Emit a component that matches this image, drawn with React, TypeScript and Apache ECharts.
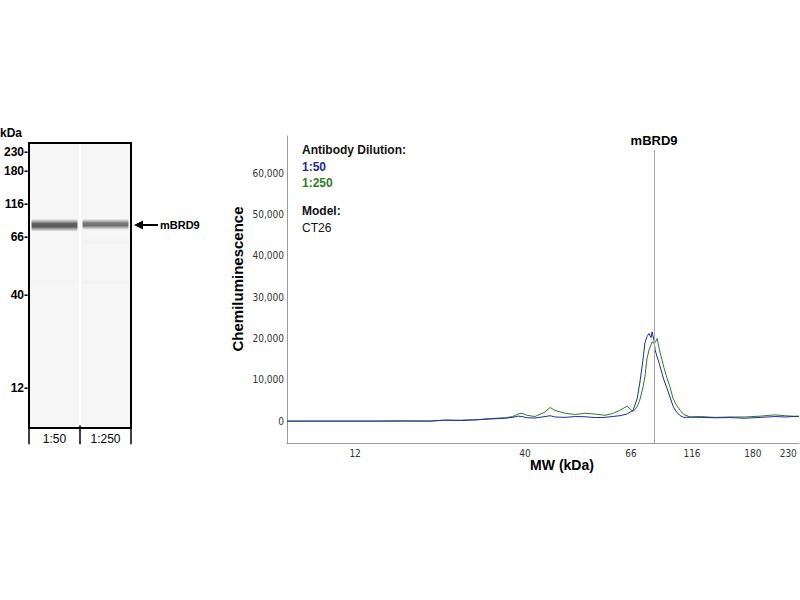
import React, { useEffect, useRef } from 'react';
import * as echarts from 'echarts';

// Capillary position (0-100) of the MW ladder standards, shared by the lane view and the electropherogram
const ladderMW = [12, 40, 66, 116, 180, 230];
const ladderPos = [13.3, 46.5, 67.2, 79.1, 91.0, 97.9];

const lanes = ['1:50', '1:250'];

// Lane view bands: lane index, position, thickness (position units), darkness
const bandLane = [0, 1, 1, 0, 1];
const bandPos = [71.6, 71.9, 65.8, 51.2, 51.2];
const bandThick = [4.6, 4.0, 2.4, 2.4, 2.4];
const bandAlpha = [0.78, 0.66, 0.02, 0.015, 0.02];

// Electropherogram samples (position along capillary)
const egPos = [
  0, 8.4, 18.2, 22.1, 27.9, 30.9, 33.8, 36.7, 39.6, 42.6, 44.1, 45.1, 45.9, 46.9, 48.4,
  50.4, 51.4, 52.3, 54.3, 56.3, 58.2, 60.2, 62.1, 63.5, 65.0, 66.4, 67.6, 68.4, 68.9,
  69.5, 69.9, 70.3, 70.7, 71.1, 71.3, 71.7, 71.9, 72.3, 72.7, 73.0, 73.6, 74.2, 74.8,
  75.4, 76.0, 76.8, 77.5, 78.7, 80.7, 83.6, 86.5, 89.5, 92.4, 95.3, 97.3, 100,
];
const dil50 = [
  0, 0, 0, 50, 0, 250, 150, 300, 500, 700, 900, 1200, 1100, 800, 750,
  1100, 1300, 1000, 900, 1100, 1050, 850, 900, 1100, 1300, 1700, 2600, 5500, 9200,
  14500, 18900, 20400, 21200, 20200, 21600, 19500, 17200, 15500, 14000, 12600, 10000, 8000, 5800,
  3600, 2300, 1300, 900, 950, 900, 800, 850, 700, 900, 1100, 1000, 1200,
];
const dil250 = [
  0, 0, 0, 0, 0, 200, 200, 300, 600, 800, 1100, 1700, 1900, 1400, 1100,
  2200, 3300, 2600, 1900, 1600, 1900, 1700, 1400, 1800, 2600, 3600, 2300, 3500, 5100,
  8000, 10700, 15000, 17200, 18500, 19200, 18800, 19000, 20000, 17500, 16000, 13000, 10500, 8300,
  5500, 4000, 2600, 1600, 1000, 1100, 900, 1000, 1000, 1200, 1500, 1300, 1100,
];

const yTicks = [0, 10000, 20000, 30000, 40000, 50000, 60000];
const targetName = 'mBRD9';
const targetPos = 71.7;

const FONT = "'Liberation Sans', Arial, sans-serif";
const NARROW = "'Liberation Sans Narrow', 'DejaVu Sans Condensed', 'Liberation Sans', sans-serif";
const BLUE = '#1f2a9f';
const GREEN = '#2e7d1f';

const mwLabel = (v: number) => {
  const i = ladderPos.findIndex(p => Math.abs(p - v) < 0.01);
  return i >= 0 ? String(ladderMW[i]) : '';
};

export default function App() {
  const ref = useRef<HTMLDivElement>(null);

  useEffect(() => {
    if (!ref.current) return;
    const chart = echarts.init(ref.current, undefined, { renderer: 'svg' });

    const option: echarts.EChartsOption = {
      animation: false,
      backgroundColor: '#ffffff',
      textStyle: { fontFamily: FONT },
      grid: [
        // lane view
        {
          left: 29, top: 143, width: 102, height: 285,
          show: true, backgroundColor: '#ffffff', borderColor: '#000', borderWidth: 2,
        },
        // electropherogram
        { left: 287, top: 136, right: 1, bottom: 157 },
      ],
      xAxis: [
        {
          gridIndex: 0,
          type: 'category',
          data: lanes,
          boundaryGap: true,
          axisLine: { show: false },
          axisTick: { show: true, length: 19, lineStyle: { color: '#000', width: 1.5 } },
          axisLabel: { color: '#000', fontSize: 12, margin: 5, fontFamily: FONT },
          splitLine: { show: false },
        },
        {
          gridIndex: 1,
          type: 'value',
          min: 0,
          max: 100,
          axisLine: { show: true, onZero: false, lineStyle: { color: '#9a9a9a', width: 1 } },
          axisTick: { show: false },
          splitLine: { show: false },
          axisLabel: {
            customValues: ladderPos,
            formatter: (v: number) => mwLabel(v),
            color: '#333',
            fontSize: 10,
            margin: 5,
            fontFamily: NARROW,
          },
        },
      ],
      yAxis: [
        {
          gridIndex: 0,
          type: 'value',
          min: -1,
          max: 101,
          axisLine: { show: false },
          axisTick: { show: false },
          splitLine: { show: false },
          axisLabel: {
            customValues: ladderPos,
            formatter: (v: number) => mwLabel(v) + '-',
            color: '#000',
            fontSize: 12,
            fontWeight: 'bold',
            margin: 1,
            fontFamily: FONT,
          },
        },
        {
          gridIndex: 1,
          type: 'value',
          min: -5300,
          max: 69000,
          axisLine: { show: true, lineStyle: { color: '#9a9a9a', width: 1 } },
          axisTick: { show: false },
          splitLine: { show: false },
          axisLabel: {
            customValues: yTicks,
            formatter: (v: number) => v.toLocaleString('en-US'),
            color: '#333',
            fontSize: 10,
            margin: 3,
            fontFamily: NARROW,
          },
        },
      ],
      series: [
        {
          type: 'custom',
          name: 'lanes',
          xAxisIndex: 0,
          yAxisIndex: 0,
          silent: true,
          data: lanes.map((_, i) => [i]),
          renderItem: (params: any, api: any) => {
            const cs = params.coordSys;
            const c = api.coord([api.value(0), 50]);
            const w = api.size([1, 0])[0] - 2;
            return {
              type: 'rect',
              shape: { x: c[0] - w / 2, y: cs.y + 1, width: w, height: cs.height - 2 },
              style: { fill: '#f6f6f6' },
            };
          },
          z: 1,
        },
        {
          type: 'custom',
          name: 'bands',
          xAxisIndex: 0,
          yAxisIndex: 0,
          silent: true,
          data: bandLane.map((l, i) => [l, bandPos[i], bandThick[i], bandAlpha[i]]),
          renderItem: (params: any, api: any) => {
            const c = api.coord([api.value(0), api.value(1)]);
            const sz = api.size([1, api.value(2)]);
            const a = api.value(3);
            const w = sz[0] * 0.9;
            const h = sz[1];
            const col = (k: number) => `rgba(45,45,45,${(a * k).toFixed(3)})`;
            return {
              type: 'rect',
              shape: { x: c[0] - w / 2, y: c[1] - h / 2, width: w, height: h, r: 2 },
              style: {
                fill: new echarts.graphic.LinearGradient(0, 0, 0, 1, [
                  { offset: 0, color: col(0) },
                  { offset: 0.18, color: col(0.4) },
                  { offset: 0.38, color: col(0.95) },
                  { offset: 0.62, color: col(1) },
                  { offset: 0.82, color: col(0.45) },
                  { offset: 1, color: col(0) },
                ]),
              },
            };
          },
          z: 2,
        },
        {
          type: 'line',
          name: '1:250',
          xAxisIndex: 1,
          yAxisIndex: 1,
          data: egPos.map((p, i) => [p, dil250[i]]),
          showSymbol: false,
          lineStyle: { color: GREEN, width: 1 },
          itemStyle: { color: GREEN },
          z: 3,
        },
        {
          type: 'line',
          name: '1:50',
          xAxisIndex: 1,
          yAxisIndex: 1,
          data: egPos.map((p, i) => [p, dil50[i]]),
          showSymbol: false,
          lineStyle: { color: BLUE, width: 1 },
          itemStyle: { color: BLUE },
          z: 4,
          markLine: {
            silent: true,
            symbol: 'none',
            lineStyle: { color: '#a8a8a8', width: 1, type: 'solid' },
            label: {
              show: true,
              position: 'end',
              formatter: targetName,
              color: '#000',
              fontSize: 13,
              fontWeight: 'bold',
              distance: 3,
              fontFamily: FONT,
            },
            data: [[{ coord: [targetPos, -5300] }, { coord: [targetPos, 65600] }]],
          },
        },
      ],
      graphic: [
        {
          type: 'text', x: 0, y: 133,
          style: { text: 'kDa', fontSize: 12, fontWeight: 'bold', fill: '#000', fontFamily: FONT, verticalAlign: 'middle' },
        },
        {
          type: 'line',
          shape: { x1: 141, y1: 225, x2: 158, y2: 225 },
          style: { stroke: '#000', lineWidth: 2 },
        },
        {
          type: 'polygon',
          shape: { points: [[134, 225], [143, 220.5], [143, 229.5]] },
          style: { fill: '#000' },
        },
        {
          type: 'text', x: 160, y: 225,
          style: { text: targetName, fontSize: 11, fontWeight: 'bold', fill: '#000', fontFamily: FONT, verticalAlign: 'middle' },
        },
        {
          type: 'text', x: 302, y: 150,
          style: { text: 'Antibody Dilution:', fontSize: 12, fontWeight: 'bold', fill: '#111', fontFamily: FONT, verticalAlign: 'middle' },
        },
        {
          type: 'text', x: 302, y: 167,
          style: { text: lanes[0], fontSize: 12, fontWeight: 'bold', fill: BLUE, fontFamily: FONT, verticalAlign: 'middle' },
        },
        {
          type: 'text', x: 302, y: 183,
          style: { text: lanes[1], fontSize: 12, fontWeight: 'bold', fill: GREEN, fontFamily: FONT, verticalAlign: 'middle' },
        },
        {
          type: 'text', x: 302, y: 211,
          style: { text: 'Model:', fontSize: 12, fontWeight: 'bold', fill: '#111', fontFamily: FONT, verticalAlign: 'middle' },
        },
        {
          type: 'text', x: 302, y: 228,
          style: { text: 'CT26', fontSize: 12, fill: '#111', fontFamily: FONT, verticalAlign: 'middle' },
        },
        {
          type: 'text', x: 237, y: 279, rotation: Math.PI / 2,
          style: { text: 'Chemiluminescence', fontSize: 15, fontWeight: 'bold', fill: '#000', fontFamily: FONT, textAlign: 'center', verticalAlign: 'middle' },
        },
        {
          type: 'text', x: 562, y: 465,
          style: { text: 'MW (kDa)', fontSize: 14, fontWeight: 'bold', fill: '#000', fontFamily: FONT, textAlign: 'center', verticalAlign: 'middle' },
        },
      ],
    };

    chart.setOption(option);
    return () => {
      chart.dispose();
    };
  }, []);

  return (
    <div
      ref={ref}
      style={{ position: 'fixed', left: 0, top: 0, width: '800px', height: '600px', background: '#fff' }}
    />
  );
}
